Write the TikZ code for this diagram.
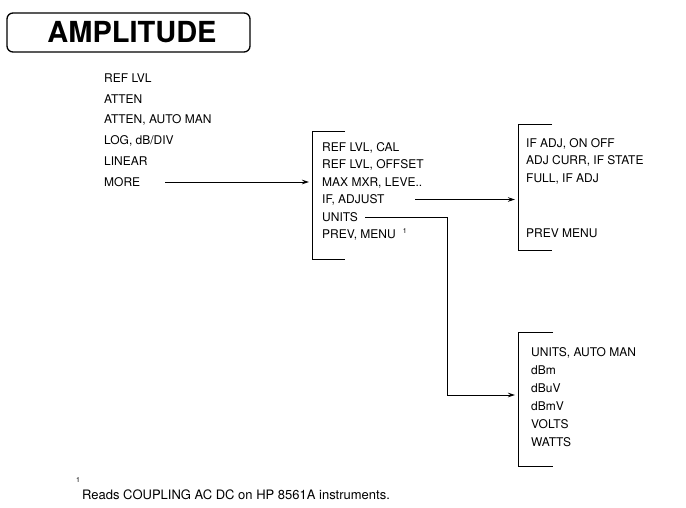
\documentclass[tikz,border=0pt]{standalone}
\usepackage{fontspec}
\setmainfont{TeX Gyre Heros}
\usetikzlibrary{arrows.meta}
\begin{document}
\begin{tikzpicture}[x=1pt,y=-1pt,
  item/.style={anchor=west,inner sep=0pt,font=\fontsize{12}{13}\selectfont,text height=8.6pt,text depth=0pt},
  brk/.style={line width=0.9pt},
  conn/.style={line width=0.9pt,-{Stealth[length=7pt,width=4.5pt]}},
  note/.style={anchor=west,inner sep=0pt,font=\fontsize{13}{14}\selectfont,text height=9.3pt,text depth=0pt}]
\useasboundingbox (0,0) rectangle (686,508);
% title
\node[draw,rounded corners=6pt,line width=1.3pt,minimum width=243pt,minimum height=39pt,inner sep=0pt,
      font=\fontsize{29}{30}\selectfont\bfseries] (title) at (128.5,32.5) {\hspace{7pt}AMPLITUDE};
% left list
\node[item] (l1) at (104,78) {REF LVL};
\node[item] (l2) at (104,98.8) {ATTEN};
\node[item] (l3) at (104,119.6) {ATTEN, AUTO MAN};
\node[item] (l4) at (104,140.4) {LOG, dB/DIV};
\node[item] (l5) at (104,161.2) {LINEAR};
\node[item] (l6) at (104,182) {MORE};
% menu 2
\draw[brk] (345,131) -- (312,131) -- (312,259) -- (345,259);
\coordinate (m2in) at (312,182);
\node[item] (m1) at (322,147) {REF LVL, CAL};
\node[item] (m2) at (322,164.5) {REF LVL, OFFSET};
\node[item] (m3) at (322,182) {MAX MXR, LEVE..};
\node[item] (m4) at (322,199.5) {IF, ADJUST};
\node[item] (m5) at (322,217) {UNITS};
\node[item] (m6) at (322,234.5) {PREV, MENU\hspace{7pt}\raisebox{5pt}{\fontsize{7}{7}\selectfont 1}};
% menu 3
\draw[brk] (552,124) -- (518,124) -- (518,250) -- (552,250);
\coordinate (m3in) at (518,199.5);
\node[item] (n1) at (526,143) {IF ADJ, ON OFF};
\node[item] (n2) at (526,160.5) {ADJ CURR, IF STATE};
\node[item] (n3) at (526,178) {FULL, IF ADJ};
\node[item] (n4) at (526,233) {PREV MENU};
% menu 4
\draw[brk] (553,332) -- (518,332) -- (518,466) -- (553,466);
\coordinate (m4in) at (518,395);
\node[item] (u1) at (531,352) {UNITS, AUTO MAN};
\node[item] (u2) at (531,370) {dBm};
\node[item] (u3) at (531,388) {dBuV};
\node[item] (u4) at (531,406) {dBmV};
\node[item] (u5) at (531,424) {VOLTS};
\node[item] (u6) at (531,442) {WATTS};
% connectors
\coordinate (s1) at (165,182);
\coordinate (s2) at (415,199.5);
\coordinate (s3) at (365,217);
\draw[conn] (s1) -- ([xshift=-3pt]m2in);
\draw[conn] (s2) -- ([xshift=-3pt]m3in);
\draw[conn] (s3) -| (447,395) -- ([xshift=-3pt]m4in);
% footnote
\node[inner sep=0pt,font=\fontsize{7}{7}\selectfont] (fn1) at (78,480) {1};
\node[note] (fn) at (82,495) {Reads COUPLING AC DC on HP 8561A instruments.};
\end{tikzpicture}
\end{document}
